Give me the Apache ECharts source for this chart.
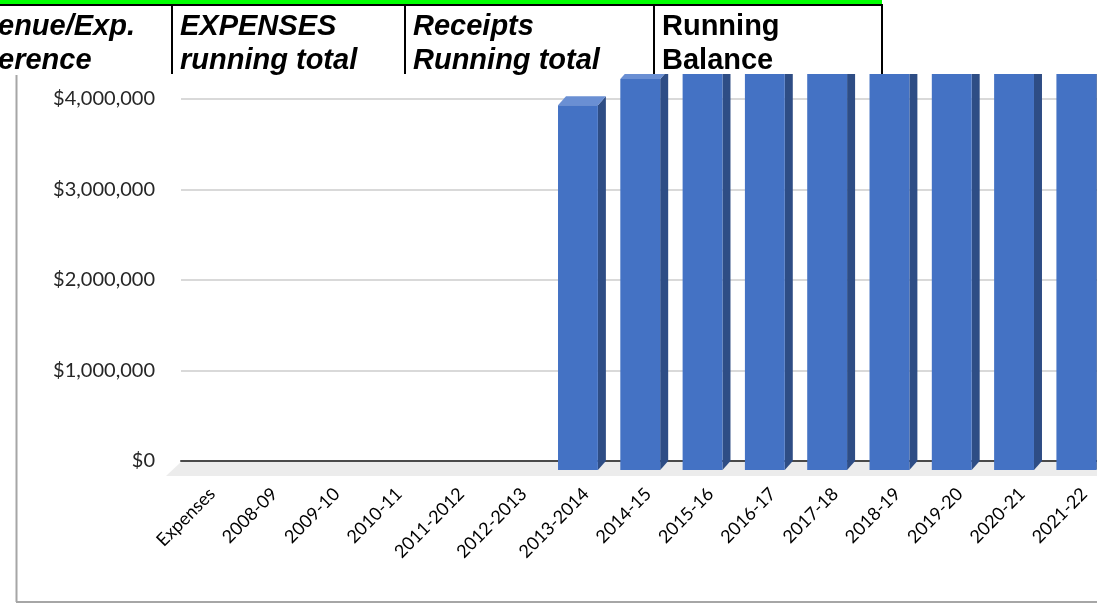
<!DOCTYPE html>
<html>
<head>
<meta charset="utf-8">
<script src="https://cdn.jsdelivr.net/npm/echarts@6/dist/echarts.min.js"></script>
<style>
  html, body { margin: 0; padding: 0; background: #ffffff; width: 1097px; height: 603px; overflow: hidden; }
  /* the plot runs a little past the right edge of the page */
  #chart { width: 1116px; height: 603px; }
</style>
</head>
<body>
<div id="chart"></div>
<script>
// Fiscal periods along the category axis
const categories = ['Expenses', '2008-09', '2009-10', '2010-11', '2011-2012', '2012-2013',
  '2013-2014', '2014-15', '2015-16', '2016-17', '2017-18', '2018-19', '2019-20', '2020-21', '2021-22'];

// Running balance per period (USD)
const runningBalance = [0, 0, 0, 0, 0, 0,
  4030000, 4320000, 4600000, 4850000, 5050000, 5250000, 5400000, 5600000, 5800000];

// Value axis ticks
const yMin = 0;
const yMax = 4000000;
const yStep = 1000000;

// Spreadsheet header cells shown above the chart
const headerTop = ['enue/Exp.', 'EXPENSES', 'Receipts', 'Running'];
const headerBottom = ['erence', 'running total', 'Running total', 'Balance'];
const headerItalic = [true, true, true, false];

const chart = echarts.init(document.getElementById('chart'), null, { renderer: 'canvas' });

// 3D depth offset of the bar columns
const DX = 8, DY = 9;

function renderFloor(params, api) {
  const cs = params.coordSys;
  const yb = cs.y + cs.height;
  return {
    type: 'polygon',
    shape: { points: [[cs.x, yb + 1], [cs.x + cs.width, yb + 1], [cs.x + cs.width - 15, yb + 15], [cs.x - 15, yb + 15]] },
    style: { fill: '#ececec' }
  };
}

function renderBar(params, api) {
  const i = api.value(0);
  const v = api.value(1);
  if (!v) return null;
  const top = api.coord([i, v]);
  const base = api.coord([i, 0]);
  const band = api.size([1, 0])[0];
  const w = band * 0.64;
  const fx0 = top[0] - DX - w / 2;
  const fx1 = fx0 + w;
  const fyTop = top[1] + DY;
  const fyBase = base[1] + DY;
  return {
    type: 'group',
    children: [
      { type: 'polygon', shape: { points: [[fx1, fyTop], [fx1 + DX, fyTop - DY], [fx1 + DX, base[1]], [fx1, fyBase]] },
        style: { fill: '#2e4d85' } },
      { type: 'polygon', shape: { points: [[fx0, fyTop], [fx1, fyTop], [fx1 + DX, fyTop - DY], [fx0 + DX, fyTop - DY]] },
        style: { fill: '#6a8fd3' } },
      { type: 'rect', shape: { x: fx0, y: fyTop, width: w, height: fyBase - fyTop },
        style: { fill: '#4472c4' } }
    ]
  };
}

// Header block drawn over the top of the chart
const headerX = [-2, 180, 413, 662];
const dividerX = [172, 405, 654, 882];
const headerGraphics = [
  { type: 'rect', z: 100, shape: { x: 0, y: 0, width: 1116, height: 74 }, style: { fill: '#ffffff' } },
  { type: 'rect', z: 101, shape: { x: 0, y: 0, width: 882, height: 4 }, style: { fill: '#00ff00' } },
  { type: 'rect', z: 101, shape: { x: 0, y: 4, width: 883, height: 2 }, style: { fill: '#000000' } }
];
dividerX.forEach(function (x) {
  headerGraphics.push({ type: 'rect', z: 101, shape: { x: x - 1, y: 5, width: 2, height: 69 }, style: { fill: '#000000' } });
});
headerTop.forEach(function (t, k) {
  const font = (headerItalic[k] ? 'italic ' : '') + 'bold 29px "Liberation Sans", Arial, sans-serif';
  headerGraphics.push({ type: 'text', z: 102, style: { text: t, x: headerX[k], y: 27, font: font, fill: '#000', verticalAlign: 'middle', align: 'left' } });
  headerGraphics.push({ type: 'text', z: 102, style: { text: headerBottom[k], x: headerX[k], y: 61, font: font, fill: '#000', verticalAlign: 'middle', align: 'left' } });
});
// Chart frame
headerGraphics.push({ type: 'line', z: 50, shape: { x1: 16.5, y1: 75, x2: 16.5, y2: 602 }, style: { stroke: '#a6a6a6', lineWidth: 2 } });
headerGraphics.push({ type: 'line', z: 50, shape: { x1: 16, y1: 602, x2: 1116, y2: 602 }, style: { stroke: '#a6a6a6', lineWidth: 2 } });

const option = {
  animation: false,
  backgroundColor: '#ffffff',
  grid: { left: 181, top: 99, width: 934.5, height: 362, containLabel: false },
  xAxis: {
    type: 'category',
    data: categories,
    axisLine: { show: true, lineStyle: { color: '#4a4a4a', width: 2 } },
    axisTick: { show: false },
    axisLabel: { interval: 0, rotate: 45, margin: 30, fontSize: 18, color: '#000000', fontFamily: 'Lato, "Open Sans", sans-serif' },
    z: 3
  },
  yAxis: {
    type: 'value',
    min: yMin,
    max: yMax,
    interval: yStep,
    axisLine: { show: false },
    axisTick: { show: false },
    splitLine: { lineStyle: { color: '#d9d9d9', width: 2 } },
    axisLabel: {
      margin: 26, fontSize: 20, color: '#262626', fontFamily: 'Lato, "Open Sans", sans-serif',
      formatter: function (v) { return '$' + v.toLocaleString('en-US'); }
    }
  },
  series: [
    { type: 'custom', name: 'floor', renderItem: renderFloor, data: [[0, 0]], z: 1, silent: true, clip: false },
    {
      type: 'custom', name: 'Running Balance', renderItem: renderBar, clip: false, z: 5,
      encode: { x: 0, y: 1 },
      data: categories.map(function (c, i) { return [i, runningBalance[i]]; })
    }
  ],
  graphic: headerGraphics
};

chart.setOption(option);
</script>
</body>
</html>
